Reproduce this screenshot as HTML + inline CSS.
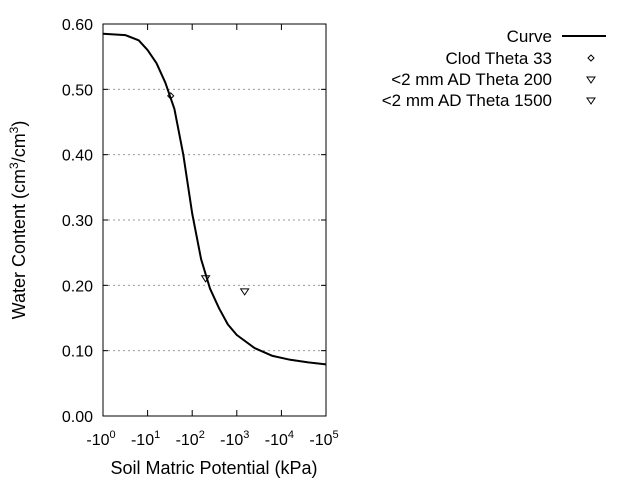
<!DOCTYPE html>
<html><head><meta charset="utf-8"><style>body{margin:0;background:#fff}svg{display:block;font-family:"Liberation Sans",sans-serif}</style></head>
<body>
<svg id="chart" width="640" height="480" viewBox="0 0 640 480" xmlns="http://www.w3.org/2000/svg">
<g id="grid"></g><g id="axes"></g><g id="marks"></g>
<text transform="translate(25,220) rotate(-90)" text-anchor="middle" font-size="18">Water Content (cm<tspan dy="-7" font-size="12">3</tspan><tspan dy="7">/cm</tspan><tspan dy="-7" font-size="12">3</tspan><tspan dy="7">)</tspan></text>
<text x="214" y="474" text-anchor="middle" font-size="18">Soil Matric Potential (kPa)</text>
<g font-size="17" text-anchor="end">
<text x="552" y="42">Curve</text>
<line x1="562" y1="36" x2="606" y2="36" stroke="#000" stroke-width="2"/>
<text x="552" y="64">Clod Theta 33</text>
<path d="M591 55 L594 58 L591 61 L588 58 Z" fill="none" stroke="#000"/>
<text x="552" y="85">&lt;2 mm AD Theta 200</text>
<path d="M587 77 L595 77 L591 83 Z" fill="none" stroke="#000"/>
<text x="552" y="106">&lt;2 mm AD Theta 1500</text>
<path d="M587 98 L595 98 L591 104 Z" fill="none" stroke="#000"/>
</g>
</svg>
<script>
const curveLogPsi=[0,0.5,0.8,1.0,1.2,1.4,1.6,1.8,2.0,2.2,2.4,2.6,2.8,3.0,3.4,3.8,4.2,4.6,5.0];
const curveTheta=[0.585,0.583,0.575,0.56,0.54,0.51,0.47,0.40,0.31,0.24,0.195,0.165,0.14,0.124,0.104,0.092,0.086,0.082,0.079];
const clodPsi=[33];const clodTheta=[0.49];
const ad200Psi=[200];const ad200Theta=[0.21];
const ad1500Psi=[1500];const ad1500Theta=[0.19];
const yTicks=[0,0.1,0.2,0.3,0.4,0.5,0.6];
const yTickLabels=["0.00","0.10","0.20","0.30","0.40","0.50","0.60"];
const xTicks=[0,1,2,3,4,5];
const NS="http://www.w3.org/2000/svg";
const L=103,R=326,T=24,B=416;
const xs=v=>L+(v-0)/(5-0)*(R-L);
const ys=v=>B-v/0.6*(B-T);
function mk(t,a,p){const e=document.createElementNS(NS,t);for(const k in a)e.setAttribute(k,a[k]);p.appendChild(e);return e;}
const grid=document.getElementById('grid'),axes=document.getElementById('axes'),marks=document.getElementById('marks');
yTicks.forEach((v,i)=>{const y=ys(v);
 if(v>0&&v<0.6){const g=mk('line',{x1:L,x2:R,y1:y,y2:y,stroke:'#999','stroke-dasharray':'2,3'},grid);
 
 }
 const t=mk('text',{x:L-10,y:y+6,'text-anchor':'end','font-size':'16'},axes);t.textContent=yTickLabels[i];
 
 
 mk('line',{x1:L,x2:L+5,y1:y,y2:y,stroke:'#000'},axes);mk('line',{x1:R,x2:R-5,y1:y,y2:y,stroke:'#000'},axes);
});
xTicks.forEach(v=>{const x=xs(v);
 mk('line',{x1:x,x2:x,y1:B,y2:B-6,stroke:'#000'},axes);mk('line',{x1:x,x2:x,y1:T,y2:T+6,stroke:'#000'},axes);
 const t=mk('text',{x:x-2,y:B+29,'text-anchor':'middle','font-size':'16'},axes);
 t.innerHTML='-10<tspan dy="-7" font-size="11">'+v+'</tspan>';
 
 
});
const box=mk('rect',{x:L,y:T,width:R-L,height:B-T,fill:'none',stroke:'#000'},axes);


const path=mk('path',{d:curveLogPsi.map((v,i)=>(i?'L':'M')+xs(v).toFixed(1)+' '+ys(curveTheta[i]).toFixed(1)).join(' '),fill:'none',stroke:'#000','stroke-width':2,'stroke-linejoin':'round'},marks);


clodPsi.forEach((p,i)=>{const x=xs(Math.log10(p)),y=ys(clodTheta[i]);
 const e=mk('path',{d:`M${x} ${y-3} L${x+3} ${y} L${x} ${y+3} L${x-3} ${y} Z`,fill:'none',stroke:'#000'},marks);
 
 });
function tri(P,Th,name){P.forEach((p,i)=>{const x=xs(Math.log10(p)),y=ys(Th[i]);
 const e=mk('path',{d:`M${x-4} ${y-3} L${x+4} ${y-3} L${x} ${y+3} Z`,fill:'none',stroke:'#000'},marks);
 
 });}
tri(ad200Psi,ad200Theta,'theta-200-point');
tri(ad1500Psi,ad1500Theta,'theta-1500-point');
</script>
</body></html>
